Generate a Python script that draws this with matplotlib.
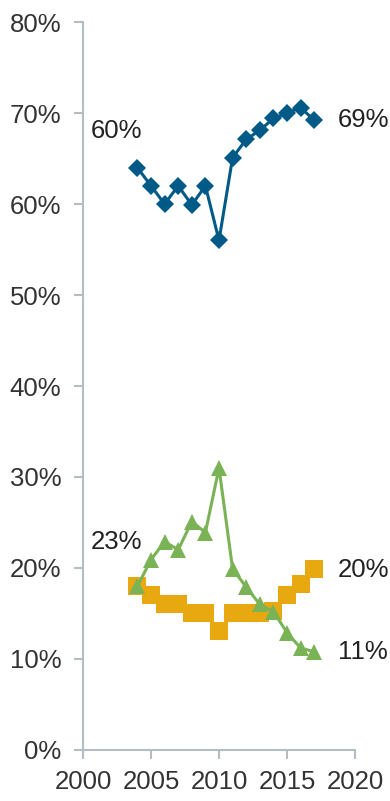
import matplotlib
matplotlib.use('Agg')
import matplotlib.pyplot as plt
from matplotlib.ticker import FuncFormatter

# Data
years = list(range(2004, 2018))
blue_vals = [64.0, 62.0, 60.0, 62.0, 59.9, 62.0, 56.0, 65.1, 67.1, 68.1, 69.4, 70.0, 70.6, 69.2]
green_vals = [18.0, 20.9, 22.9, 22.0, 25.1, 23.9, 31.0, 19.9, 17.9, 16.0, 15.2, 12.9, 11.2, 10.8]
orange_vals = [18.0, 17.0, 16.0, 16.0, 15.1, 15.0, 13.1, 15.1, 15.1, 15.0, 15.3, 17.0, 18.2, 19.9]

# Text labels: (text, x, y, alignment)
labels = [
    ('60%', 2002.5, 68.0, 'center'),
    ('69%', 2018.75, 69.2, 'left'),
    ('23%', 2002.5, 22.9, 'center'),
    ('20%', 2018.75, 19.8, 'left'),
    ('11%', 2018.75, 10.8, 'left'),
]

x_ticks = [2000, 2005, 2010, 2015, 2020]
y_ticks = [0, 10, 20, 30, 40, 50, 60, 70, 80]

BLUE = '#005a88'
GREEN = '#7ab356'
ORANGE = '#e8a80f'
GREY = '#b4bcc4'
TEXT = '#222222'

plt.rcParams['font.family'] = ['Liberation Sans', 'DejaVu Sans']

fig = plt.figure(figsize=(3.9, 8.01), dpi=100)
ax = fig.add_axes([0.2128, 0.0637, 0.6975, 0.9088])

ax.plot(years, orange_vals, color=ORANGE, lw=2.2, marker='s', markersize=13,
        markeredgewidth=0, zorder=2)
ax.plot(years, green_vals, color=GREEN, lw=2.2, marker='^', markersize=11.5,
        markeredgewidth=0, zorder=3)
ax.plot(years, blue_vals, color=BLUE, lw=2.2, marker='D', markersize=9,
        markeredgewidth=0, zorder=3)

for txt, x, y, ha in labels:
    ax.text(x, y, txt, ha=ha, va='center', fontsize=18.5, color=TEXT, clip_on=False)

ax.set_xlim(2000, 2020)
ax.set_ylim(0, 80)
ax.set_xticks(x_ticks)
ax.set_yticks(y_ticks)
ax.yaxis.set_major_formatter(FuncFormatter(lambda v, p: '%d%%' % v))

for side in ['top', 'right']:
    ax.spines[side].set_visible(False)
for side in ['left', 'bottom']:
    ax.spines[side].set_color(GREY)
    ax.spines[side].set_linewidth(1.5)

ax.tick_params(axis='both', colors=GREY, labelcolor='#333333', labelsize=18.5,
               length=6.5, width=1.5)
ax.tick_params(axis='y', pad=9)
ax.tick_params(axis='x', pad=8)

fig.savefig('out.png', dpi=100)
